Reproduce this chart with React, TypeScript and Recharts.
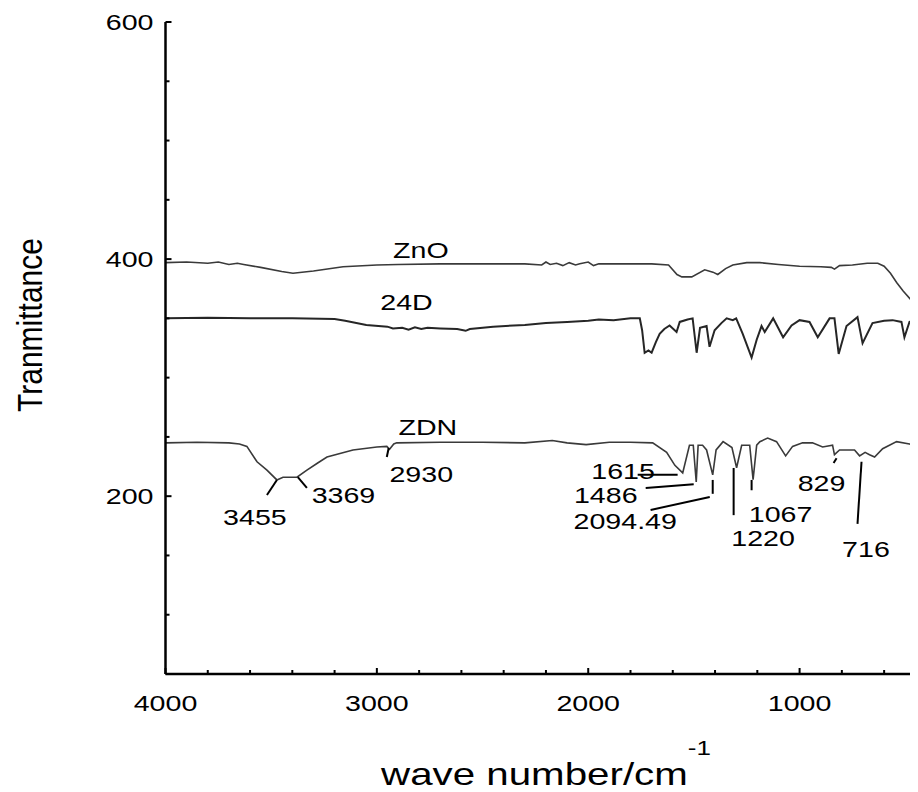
import React from "react";
import { LineChart, Line, XAxis, YAxis, ReferenceLine, ReferenceDot, Customized } from "recharts";

const FONT = '"Liberation Sans", Arial, Helvetica, sans-serif';
// the source image is stretched sideways, so text gets a horizontal scale
const SX = 1.3;

const X_TICKS = [4000, 3800, 3600, 3400, 3200, 3000, 2800, 2600, 2400, 2200, 2000, 1800, 1600, 1400, 1200, 1000, 800, 600, 400];
const X_LABELS = [4000, 3000, 2000, 1000];
const Y_TICKS = [50, 100, 150, 200, 250, 300, 350, 400, 450, 500, 550, 600];
const Y_LABELS = [200, 400, 600];

// ZnO spectrum
const ZNO_WN = [4000, 3900, 3800, 3750, 3700, 3660, 3630, 3550, 3450, 3397, 3300, 3160, 3000, 2900, 2700, 2500, 2300, 2220, 2200, 2180, 2150, 2120, 2090, 2060, 2040, 2000, 1975, 1950, 1850, 1700, 1620, 1580, 1557, 1510, 1449, 1410, 1387, 1350, 1316, 1250, 1188, 1100, 1000, 900, 850, 835, 811, 750, 680, 630, 600, 570, 540, 510, 480, 460, 442, 420, 400];
const ZNO_T = [397, 397.5, 396.5, 397.5, 395.5, 396.5, 395.5, 393, 389.5, 388, 390, 393.5, 395, 395.5, 396, 396, 396, 395, 397.5, 395.5, 396.5, 394.5, 397, 395, 396, 397.5, 394.5, 396, 396, 396, 395, 387, 385, 385, 391, 389, 387, 392, 395, 397, 397, 395.5, 394, 393.5, 393, 391.5, 394.5, 395, 396.5, 396.5, 394, 388, 380, 373, 367, 363, 359, 355, 352];

// 2,4-D spectrum
const D24_WN = [4000, 3800, 3600, 3400, 3200, 3150, 3050, 2950, 2924, 2880, 2850, 2820, 2790, 2760, 2700, 2620, 2580, 2560, 2450, 2300, 2200, 2100, 2000, 1950, 1880, 1800, 1756, 1745, 1733, 1715, 1700, 1680, 1662, 1640, 1615, 1582, 1567, 1530, 1506, 1487, 1471, 1440, 1426, 1402, 1370, 1345, 1316, 1300, 1269, 1227, 1203, 1180, 1165, 1125, 1078, 1038, 1000, 953, 914, 858, 835, 815, 778, 726, 702, 655, 600, 560, 518, 504, 480, 442, 400];
const D24_T = [350, 350.5, 350, 350, 349.5, 348, 344.5, 343, 341.5, 342, 340.5, 342.5, 341, 342, 341.5, 341, 339.5, 341, 343, 344.5, 346, 347, 348, 349, 348.5, 350, 350, 340, 321, 323, 321, 330, 337, 341, 344, 338.5, 347, 349, 350, 321, 342, 343.5, 326, 340, 346, 350, 348.5, 350, 337, 317, 332, 343.5, 338.5, 350, 334, 344, 348.5, 347, 334, 350, 350, 320, 343.5, 351, 329, 346, 348, 348.5, 347, 334, 347, 348, 348];

// ZDN spectrum
const ZDN_WN = [4000, 3850, 3700, 3650, 3615, 3567, 3520, 3473, 3444, 3378, 3331, 3280, 3236, 3113, 3000, 2953, 2940, 2920, 2906, 2700, 2500, 2300, 2170, 2100, 2010, 1900, 1800, 1695, 1629, 1590, 1553, 1521, 1503, 1489, 1480, 1459, 1440, 1411, 1395, 1362, 1320, 1298, 1274, 1236, 1220, 1203, 1188, 1151, 1109, 1066, 1033, 986, 939, 891, 844, 835, 811, 740, 716, 690, 669, 645, 607, 541, 480, 442, 400];
const ZDN_T = [245, 245.5, 245, 244, 242, 229, 222, 213.7, 216, 216, 222, 228, 233, 239, 241.5, 242, 239.5, 244, 245, 245.5, 245.5, 245, 247, 245, 243.5, 245.5, 245.5, 245, 237, 226, 219.6, 243, 243, 212, 243, 243, 239, 218, 239, 246, 241, 224, 243, 243, 214, 243, 246, 249, 246, 234, 242, 245, 245, 241.5, 243, 235, 239, 239, 234, 237, 235, 233, 240, 246, 244, 243, 243];

const SERIES_NAMES = ["ZnO", "24D", "ZDN"];
const SERIES_LABEL_WN = [2792, 2860, 2759];
const SERIES_LABEL_T = [408, 364, 258];

const PEAK_TEXT = ["3455", "3369", "2930", "1615", "1486", "2094.49", "1220", "1067", "829", "716"];
const PEAK_TEXT_WN = [3577, 3158, 2790, 1835, 1917, 1825, 1173, 1090, 896, 686];
const PEAK_TEXT_T = [182.5, 200.6, 218.7, 221.3, 201, 179, 164.3, 185, 210.7, 155.5];

// leader lines: [wn1, t1, wn2, t2]
const LEADERS = [
  [3520, 201, 3473, 213.7],
  [3374, 216, 3331, 207],
  [2953, 233, 2944, 240.7],
  [1766, 218, 1577, 218],
  [1728, 207, 1501, 210],
  [1705, 188.4, 1425, 199.3],
  [1411, 213.7, 1411, 202],
  [1312, 223.8, 1312, 184],
  [1227, 213.7, 1227, 205],
  [839, 228, 825, 232],
  [707, 229, 726, 176.6],
];

const zip = (wn: number[], t: number[]) => wn.map((w, i) => ({ wn: w, t: t[i] }));
const znoData = zip(ZNO_WN, ZNO_T);
const d24Data = zip(D24_WN, D24_T);
const zdnData = zip(ZDN_WN, ZDN_T);

function SText({ x, y, anchor = "middle", size = 22, sx = SX, children }: any) {
  return (
    <text
      transform={`translate(${x},${y}) scale(${sx},1)`}
      textAnchor={anchor}
      fontSize={size}
      fontFamily={FONT}
      fill="#000"
    >
      {children}
    </text>
  );
}

function BottomTick({ x, y, payload }: any) {
  const major = X_LABELS.includes(payload.value);
  return (
    <g>
      <line x1={x} x2={x} y1={y} y2={y - (major ? 6 : 4)} stroke="#000" strokeWidth={2} />
      {major && (
        <SText x={x} y={y + 37}>
          {payload.value}
        </SText>
      )}
    </g>
  );
}

function TopTick({ x, y, payload }: any) {
  const major = X_LABELS.includes(payload.value);
  return <line x1={x} x2={x} y1={y} y2={y + (major ? 6 : 4)} stroke="#000" strokeWidth={2} />;
}

function LeftTick({ x, y, payload }: any) {
  const major = Y_LABELS.includes(payload.value);
  return (
    <g>
      <line x1={x} x2={x + (major ? 6 : 4)} y1={y} y2={y} stroke="#000" strokeWidth={2} />
      {major && (
        <SText x={x - 12} y={y + 8} anchor="end">
          {payload.value}
        </SText>
      )}
    </g>
  );
}

function Titles() {
  return (
    <g>
      <text
        transform={`translate(538,777) scale(${SX},1)`}
        textAnchor="middle"
        fontSize={31}
        fontFamily={FONT}
        fill="#000"
      >
        wave number/cm
        <tspan dy={-30} fontSize={20}>-1</tspan>
      </text>
      <text
        transform={`translate(34,317) scale(1.15,1) rotate(-90)`}
        textAnchor="middle"
        fontSize={30}
        fontFamily={FONT}
        fill="#000"
      >
        Tranmittance
      </text>
    </g>
  );
}

export default function App() {
  return (
    <div style={{ width: 910, height: 784, overflow: "hidden", background: "#fff" }}>
      <LineChart width={940} height={784} margin={{ top: 14, right: 21.6, bottom: 78, left: 97.5 }}>
        <XAxis
          dataKey="wn"
          type="number"
          domain={[400, 4000]}
          reversed
          allowDataOverflow
          ticks={X_TICKS}
          interval={0}
          height={40}
          tickSize={0}
          tickMargin={0}
          tickLine={false}
          axisLine={{ stroke: "#000", strokeWidth: 2.5 }}
          tick={<BottomTick />}
        />
        <XAxis
          xAxisId="top"
          orientation="top"
          dataKey="wn"
          type="number"
          domain={[400, 4000]}
          reversed
          allowDataOverflow
          ticks={X_TICKS}
          interval={0}
          height={0}
          tickSize={0}
          tickMargin={0}
          tickLine={false}
          axisLine={{ stroke: "#000", strokeWidth: 2.5 }}
          tick={<TopTick />}
        />
        <YAxis
          type="number"
          domain={[50, 600]}
          allowDataOverflow
          ticks={Y_TICKS}
          interval={0}
          width={60}
          tickSize={0}
          tickMargin={0}
          tickLine={false}
          axisLine={{ stroke: "#000", strokeWidth: 2.5 }}
          tick={<LeftTick />}
        />
        <YAxis
          yAxisId="right"
          orientation="right"
          type="number"
          domain={[50, 600]}
          width={0}
          tick={false}
          tickLine={false}
          axisLine={{ stroke: "#000", strokeWidth: 2.5 }}
        />

        <Line data={znoData} dataKey="t" type="linear" stroke="#3a3a3a" strokeWidth={1.6} dot={false} isAnimationActive={false} />
        <Line data={d24Data} dataKey="t" type="linear" stroke="#262626" strokeWidth={2} dot={false} isAnimationActive={false} />
        <Line data={zdnData} dataKey="t" type="linear" stroke="#3a3a3a" strokeWidth={1.6} dot={false} isAnimationActive={false} />

        {LEADERS.map(([w1, t1, w2, t2], i) => (
          <ReferenceLine
            key={`ld-${i}`}
            segment={[{ x: w1, y: t1 }, { x: w2, y: t2 }]}
            stroke="#000"
            strokeWidth={2}
          />
        ))}

        {SERIES_NAMES.map((name, i) => (
          <ReferenceDot
            key={`sn-${i}`}
            x={SERIES_LABEL_WN[i]}
            y={SERIES_LABEL_T[i]}
            r={0}
            shape={(p: any) => (
              <SText x={p.cx} y={p.cy + 7.9}>
                {name}
              </SText>
            )}
          />
        ))}

        {PEAK_TEXT.map((txt, i) => (
          <ReferenceDot
            key={`pk-${i}`}
            x={PEAK_TEXT_WN[i]}
            y={PEAK_TEXT_T[i]}
            r={0}
            shape={(p: any) => (
              <SText x={p.cx} y={p.cy + 7.9}>
                {txt}
              </SText>
            )}
          />
        ))}

        <Customized component={<Titles />} />
      </LineChart>
    </div>
  );
}
